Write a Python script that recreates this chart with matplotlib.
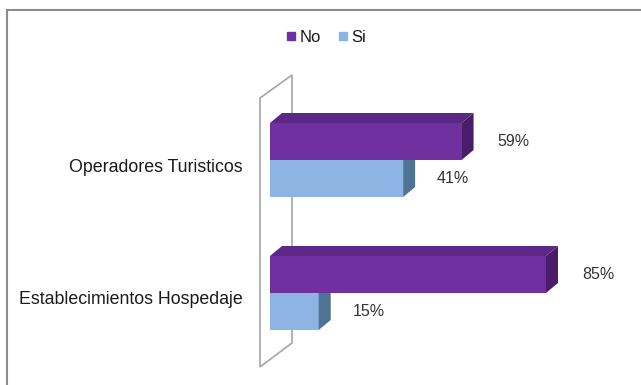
import numpy as np
import matplotlib.pyplot as plt
from matplotlib.patches import Polygon, Rectangle
from matplotlib.lines import Line2D

plt.rcParams['font.family'] = ['Liberation Sans', 'DejaVu Sans']

categories = ['Establecimientos Hospedaje', 'Operadores Turisticos']
no_values = [85, 59]
si_values = [15, 41]
series_names = ['No', 'Si']

purple = '#7030A0'
purple_top = '#5B2886'
purple_side = '#4A1D6B'
blue = '#8DB4E2'
blue_side = '#4F7393'

W, H = 641, 385
fig = plt.figure(figsize=(W / 100, H / 100), dpi=100)

# axes placed so that 0% sits at x=270px and 85% at x=546px
px_per_unit = (546 - 270) / 85.0
ax_left = 270
ax_width = 100 * px_per_unit
py_per_unit = 133.0
ylo, yhi = -0.65, 1.7
ax_bottom = 92 - 0.65 * py_per_unit
ax = fig.add_axes([ax_left / W, ax_bottom / H, ax_width / W, (yhi - ylo) * py_per_unit / H])
ax.set_xlim(0, 100)
ax.set_ylim(ylo, yhi)
ax.axis('off')

# 3d depth in data units
dx = 12 / px_per_unit
dy = 10 / py_per_unit
h = 37 / py_per_unit

# back wall
wx0, wx1 = -10 / px_per_unit, 22 / px_per_unit
wall = Polygon([(wx0, -0.556), (wx0, 1.466), (wx1, 1.639), (wx1, -0.376)],
               closed=True, facecolor='white', edgecolor='#A6A6A6', lw=1.2,
               clip_on=False, zorder=1)
ax.add_patch(wall)

txt = '#333333'
y = np.arange(len(categories))
for i in range(len(categories)):
    yc = y[i]
    # Si bar (below)
    s = si_values[i]
    ax.barh(yc - h / 2, s, height=h, color=blue, zorder=2)
    ax.add_patch(Polygon([(s, yc - h), (s + dx, yc - h + dy), (s + dx, yc + dy), (s, yc)],
                         closed=True, facecolor=blue_side, edgecolor='none', zorder=2))
    # No bar (above)
    n = no_values[i]
    ax.add_patch(Polygon([(n, yc), (n + dx, yc + dy), (n + dx, yc + h + dy), (n, yc + h)],
                         closed=True, facecolor=purple_side, edgecolor='none', zorder=3))
    ax.add_patch(Polygon([(0, yc + h), (n, yc + h), (n + dx, yc + h + dy), (dx, yc + h + dy)],
                         closed=True, facecolor=purple_top, edgecolor='none', zorder=3))
    ax.barh(yc + h / 2, n, height=h, color=purple, zorder=4)

    ax.annotate(f'{n}%', (n, yc + h / 2), xytext=(52, 0), textcoords='offset pixels',
                ha='center', va='center', fontsize=11.5, color=txt)
    ax.annotate(f'{s}%', (s, yc - h / 2), xytext=(50, 0), textcoords='offset pixels',
                ha='center', va='center', fontsize=11.5, color=txt)
    ax.annotate(categories[i], (0, yc), xytext=(-27, -7), textcoords='offset pixels',
                ha='right', va='center', fontsize=12.8, color='#1a1a1a')

handles = [Line2D([], [], marker='s', color=purple, ls='none', markersize=6),
           Line2D([], [], marker='s', color=blue, ls='none', markersize=6)]
fig.legend(handles, series_names, loc='center', bbox_to_anchor=(326 / W, 1 - 37 / H),
           ncol=2, frameon=False, fontsize=12, handlelength=0.6, handletextpad=0.2,
           columnspacing=1.0, labelcolor='#1a1a1a')

# outer chart frame
fig.add_artist(Rectangle((7 / W, -0.05), (W - 7 + 10) / W, 1 - 10 / H + 0.05,
                         transform=fig.transFigure, fill=False, edgecolor='#8C8C8C', lw=1.5))

fig.savefig('out.png', dpi=100)
